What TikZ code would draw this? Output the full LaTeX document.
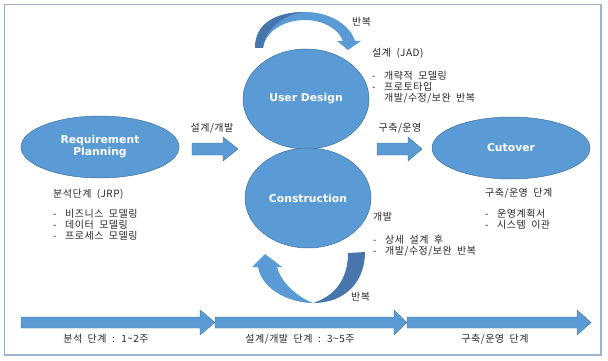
\documentclass[tikz,border=0pt]{standalone}
\usepackage{fontspec}
\setmainfont{Noto Sans CJK KR}[LetterSpace=5,WordSpace=2]
\newfontfamily\labelfont{DejaVu Sans}
\usepackage{tikz}
\usetikzlibrary{positioning,shapes.geometric}
\usepackage{xcolor}
\definecolor{phaseblue}{HTML}{5B9BD5}
\definecolor{edgeblue}{HTML}{41719C}
\definecolor{shadeblue}{HTML}{4676AB}
\definecolor{framegray}{HTML}{9DB4CF}
\newcommand{\bul}{\makebox[12pt][l]{-}}

\begin{document}
\begin{tikzpicture}[x=1pt,y=-1pt,
  phase/.style={ellipse, fill=phaseblue, draw=edgeblue, line width=0.5pt, text=white,
    font=\labelfont\bfseries\fontsize{10.8}{12}\selectfont, align=center, inner sep=0pt},
  blockarrow/.style={fill=phaseblue, draw=edgeblue, line width=0.4pt},
  note/.style={anchor=north west, inner sep=0pt, align=left,
    font=\fontsize{10}{11}\selectfont, text=black!85},
  steptext/.style={inner sep=0pt, font=\fontsize{10}{11}\selectfont, text=black!85}]
\useasboundingbox (0,0) rectangle (608,361);
\draw[framegray, line width=1.2pt] (4.5,4.5) rectangle (601,355);
% repeat arrow (top)
\fill[phaseblue] (255,48) .. controls (255,22) and (278,12) .. (305,12)
  .. controls (330,12) and (350,25) .. (355,41) -- (361,41) -- (348,50) -- (337,41) -- (343,41)
  .. controls (338,28) and (322,20) .. (305,20) .. controls (285,20) and (266,30) .. (263,48) -- cycle;
\fill[shadeblue] (255,48) .. controls (255,22) and (278,12) .. (305,12)
  .. controls (285,14) and (265,28) .. (263,48) -- cycle;
% repeat arrow (bottom)
\fill[phaseblue] (258,267) .. controls (262,290) and (290,303) .. (313,303)
  .. controls (300,298) and (282,285) .. (277,267) -- (282,267) -- (265,254) -- (252,267) -- cycle;
\fill[shadeblue] (313,303) .. controls (345,303) and (365,282) .. (365,252) -- (348,253)
  .. controls (348,279) and (335,296) .. (313,303) -- cycle;
% phases
\node[phase, minimum width=158pt, minimum height=62pt] (plan) at (100,147) {Requirement\\Planning};
\node[phase, minimum width=126pt, minimum height=100pt] (design) at (306,99) {User Design};
\node[phase, minimum width=126pt, minimum height=100pt] (build) at (308,198) {Construction};
\node[phase, minimum width=158pt, minimum height=62pt] (cutover) at (511,148) {Cutover};
% block arrows
\draw[blockarrow] (192,143) -- (223,143) -- (223,137) -- (238,149) -- (223,161) -- (223,155) -- (192,155) -- cycle;
\draw[blockarrow] (377,143) -- (408,143) -- (408,137) -- (422,149) -- (408,161) -- (408,155) -- (377,155) -- cycle;
\node[steptext] (toDesign) at (212,128) {설계/개발};
\node[steptext] (toCutover) at (400,128) {구축/운영};
% repeat labels
\node[steptext, anchor=west] (repeatTop) at (352,22) {반복};
\node[steptext, anchor=west] (repeatBottom) at (351,297) {반복};
% notes
\node[note] (jadNote) at (372,48) {설계 (JAD)\\[12pt]\bul 개략적 모델링\\\bul 프로토타입\\\hspace*{12pt}개발/수정/보완 반복};
\node[note] (jrpNote) at (53,189) {분석단계 (JRP)\\[9pt]\bul 비즈니스 모델링\\\bul 데이터 모델링\\\bul 프로세스 모델링};
\node[note] (cutNote) at (485,188) {구축/운영 단계\\[10pt]\bul 운영계획서\\\bul 시스템 이관};
\node[note] (devNote) at (373,212) {개발\\[12pt]\bul 상세 설계 후\\\bul 개발/수정/보완 반복};
% timeline
\draw[blockarrow] (21,317) -- (200,317) -- (200,310) -- (215,322.5) -- (200,335) -- (200,328) -- (21,328) -- cycle;
\draw[blockarrow] (215,317) -- (394,317) -- (394,310) -- (407,322.5) -- (394,335) -- (394,328) -- (215,328) -- cycle;
\draw[blockarrow] (407,317) -- (577,317) -- (577,310) -- (591,322.5) -- (577,335) -- (577,328) -- (407,328) -- cycle;
\node[steptext] (stepOne) at (106,339) {분석 단계 : 1\textasciitilde 2주};
\node[steptext] (stepTwo) at (300,339) {설계/개발 단계 : 3\textasciitilde 5주};
\node[steptext] (stepThree) at (495,339) {구축/운영 단계};
\end{tikzpicture}
\end{document}
